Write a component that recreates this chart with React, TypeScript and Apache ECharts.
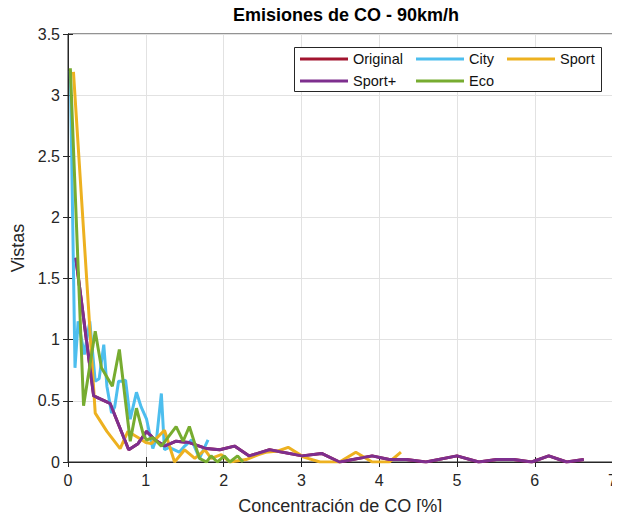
import React, { useEffect, useRef } from "react";
import * as echarts from "echarts";

const title = "Emisiones de CO - 90km/h";
const xName = "Concentración de CO [%]";
const yName = "Vistas";
const seriesNames = ["Original", "City", "Sport", "Sport+", "Eco"];
const colors = ["#A2142F", "#4DBEEE", "#EDB120", "#7E2F8E", "#77AC30"];

const sportPlus: number[][] = [
  [0.1, 1.67], [0.33, 0.54], [0.54, 0.48], [0.78, 0.1], [0.9, 0.15], [1.01, 0.25],
  [1.12, 0.18], [1.24, 0.13], [1.39, 0.17], [1.55, 0.16], [1.78, 0.11], [1.95, 0.1],
  [2.14, 0.13], [2.33, 0.05], [2.59, 0.1], [3.01, 0.05], [3.26, 0.07], [3.49, 0],
  [3.91, 0.05], [4.13, 0.02], [4.35, 0.02], [4.6, 0], [5.0, 0.05], [5.28, 0],
  [5.51, 0.02], [5.73, 0.02], [5.96, 0], [6.18, 0.05], [6.41, 0], [6.63, 0.02],
];
// Original is fully hidden beneath Sport+ in the reference
const original: number[][] = sportPlus.map((p) => [p[0], p[1]]);

const city: number[][] = [
  [0.03, 3.2], [0.09, 0.77], [0.13, 1.15], [0.21, 0.88], [0.28, 1.15], [0.35, 0.66],
  [0.4, 0.68], [0.46, 0.96], [0.5, 0.62], [0.56, 0.4], [0.6, 0.45], [0.65, 0.66],
  [0.69, 0.66], [0.74, 0.67], [0.8, 0.35], [0.88, 0.57], [0.94, 0.45], [1.01, 0.35],
  [1.09, 0.11], [1.14, 0.2], [1.2, 0.56], [1.24, 0.1], [1.3, 0.12], [1.43, 0.08],
  [1.5, 0.13], [1.59, 0.18], [1.69, 0.03], [1.8, 0.18],
];

const sport: number[][] = [
  [0.07, 3.19], [0.35, 0.4], [0.5, 0.25], [0.67, 0.11], [0.77, 0.25], [0.9, 0.2],
  [1.0, 0.16], [1.07, 0.15], [1.24, 0.26], [1.37, 0], [1.5, 0.1], [1.63, 0.03],
  [1.76, 0.1], [1.84, 0.03], [1.97, 0.06], [2.08, 0], [2.29, 0.02], [2.45, 0.06],
  [2.54, 0.08], [2.7, 0.09], [2.83, 0.12], [3.03, 0.04], [3.24, 0], [3.49, 0],
  [3.7, 0.08], [3.91, 0], [4.13, 0], [4.28, 0.08],
];

const eco: number[][] = [
  [0.03, 3.22], [0.2, 0.46], [0.35, 1.07], [0.43, 0.77], [0.57, 0.62], [0.66, 0.92],
  [0.8, 0.17], [0.88, 0.44], [0.97, 0.22], [1.01, 0.18], [1.09, 0.2], [1.2, 0.13],
  [1.39, 0.29], [1.48, 0.17], [1.56, 0.29], [1.69, 0.03], [1.78, 0], [1.84, 0.05],
  [1.92, 0], [2.01, 0.05], [2.08, 0], [2.18, 0.05], [2.25, 0],
];

const seriesData = [original, city, sport, sportPlus, eco];

const FONT = "Liberation Sans, Arial, sans-serif";
const AXIS = "#262626";

export default function App() {
  const ref = useRef<HTMLDivElement>(null);
  useEffect(() => {
    if (!ref.current) return;
    const chart = echarts.init(ref.current, undefined, { renderer: "svg" });
    const legendBase = {
      orient: "vertical" as const,
      icon: "rect",
      itemWidth: 48,
      itemHeight: 3,
      itemGap: 6,
      padding: 0,
      z: 20,
      selectedMode: false,
      textStyle: { fontFamily: FONT, fontSize: 14.5, color: "#111", lineHeight: 16 },
      top: 51,
    };
    chart.setOption({
      animation: false,
      title: {
        text: title,
        left: 341,
        textAlign: "center",
        top: 1,
        textStyle: { fontFamily: FONT, fontSize: 18, fontWeight: "bold", color: "#000" },
      },
      grid: {
        left: 68,
        right: 6,
        top: 34,
        bottom: 56,
        show: true,
        borderColor: AXIS,
        borderWidth: 1,
        backgroundColor: "#fff",
      },
      legend: [
        { ...legendBase, left: 300, data: ["Original", "Sport+"] },
        { ...legendBase, left: 416, data: ["City", "Eco"] },
        { ...legendBase, left: 507, data: ["Sport"] },
      ],
      graphic: [
        {
          type: "rect",
          z: 15,
          shape: { x: 294.5, y: 47.5, width: 307, height: 44 },
          style: { fill: "#fff", stroke: AXIS, lineWidth: 1 },
        },
      ],
      xAxis: [
        {
          type: "value",
          min: 0,
          max: 7,
          interval: 1,
          name: xName,
          nameLocation: "middle",
          nameGap: 35,
          nameTextStyle: { fontFamily: FONT, fontSize: 18, color: AXIS },
          axisLine: { show: true, lineStyle: { color: AXIS } },
          axisTick: { show: true, inside: true, length: 5, lineStyle: { color: AXIS } },
          axisLabel: { fontFamily: FONT, fontSize: 16, color: AXIS, margin: 10 },
          splitLine: { show: true, lineStyle: { color: "#e2e2e2", width: 1 } },
        },
        {
          type: "value",
          position: "top",
          min: 0,
          max: 7,
          interval: 1,
          axisLine: { show: true, lineStyle: { color: AXIS } },
          axisTick: { show: true, inside: true, length: 5, lineStyle: { color: AXIS } },
          axisLabel: { show: false },
          splitLine: { show: false },
        },
      ],
      yAxis: [
        {
          type: "value",
          min: 0,
          max: 3.5,
          interval: 0.5,
          name: yName,
          nameLocation: "middle",
          nameGap: 36,
          nameTextStyle: { fontFamily: FONT, fontSize: 18, color: AXIS },
          axisLine: { show: true, lineStyle: { color: AXIS } },
          axisTick: { show: true, inside: true, length: 5, lineStyle: { color: AXIS } },
          axisLabel: { fontFamily: FONT, fontSize: 16, color: AXIS, margin: 8 },
          splitLine: { show: true, lineStyle: { color: "#e2e2e2", width: 1 } },
        },
        {
          type: "value",
          position: "right",
          min: 0,
          max: 3.5,
          interval: 0.5,
          axisLine: { show: true, lineStyle: { color: AXIS } },
          axisTick: { show: true, inside: true, length: 5, lineStyle: { color: AXIS } },
          axisLabel: { show: false },
          splitLine: { show: false },
        },
      ],
      series: seriesNames.map((name, i) => ({
        name,
        type: "line",
        data: seriesData[i],
        symbol: "none",
        showSymbol: false,
        color: colors[i],
        lineStyle: { width: 3, color: colors[i] },
        z: 2,
      })),
    });
    return () => chart.dispose();
  }, []);
  return <div ref={ref} style={{ width: 620, height: 520, margin: -8 }} />;
}
